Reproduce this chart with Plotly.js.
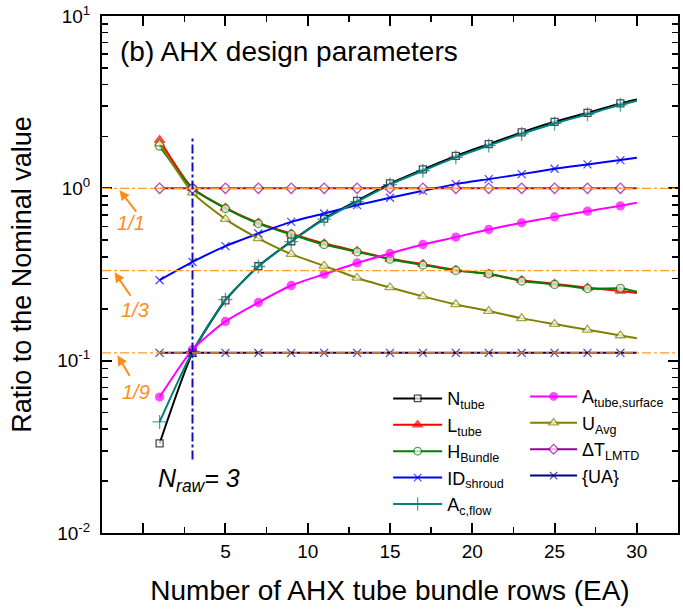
<!DOCTYPE html>
<html><head><meta charset="utf-8">
<script src="https://cdn.plot.ly/plotly-3.0.1.min.js"></script>
<style>html,body{margin:0;padding:0;background:#fff}#chart{width:683px;height:610px}</style>
</head><body><div id="chart"></div>
<script>
// Number of AHX tube bundle rows (EA)
const rows = [1, 3, 5, 7, 9, 11, 13, 15, 17, 19, 21, 23, 25, 27, 29, 30];

// Ratio to the nominal value
const nTube    = [0.0331, 0.111, 0.224, 0.353, 0.493, 0.668, 0.846, 1.068, 1.288, 1.544, 1.806, 2.112, 2.433, 2.744, 3.112, 3.283];
const lTube    = [1.905, 1.0, 0.770, 0.630, 0.545, 0.478, 0.432, 0.390, 0.363, 0.336, 0.318, 0.293, 0.279, 0.265, 0.254, 0.247];
const hBundle  = [1.758, 1.0, 0.764, 0.625, 0.540, 0.472, 0.428, 0.388, 0.359, 0.334, 0.319, 0.290, 0.277, 0.262, 0.263, 0.251];
const idShroud = [0.293, 0.374, 0.462, 0.547, 0.639, 0.715, 0.799, 0.881, 0.967, 1.058, 1.131, 1.209, 1.298, 1.377, 1.458, 1.504];
const aCflow   = [0.0441, 0.113, 0.226, 0.352, 0.490, 0.662, 0.836, 1.052, 1.265, 1.513, 1.770, 2.070, 2.380, 2.690, 3.050, 3.220];
const aSurface = [0.0615, 0.116, 0.169, 0.2175, 0.273, 0.3175, 0.369, 0.419, 0.472, 0.521, 0.577, 0.631, 0.683, 0.737, 0.791, 0.824];
const uAvg     = [1.82, 0.945, 0.663, 0.512, 0.415, 0.355, 0.302, 0.266, 0.236, 0.212, 0.194, 0.176, 0.163, 0.151, 0.140, 0.135];
const dTlmtd   = [1, 1, 1, 1, 1, 1, 1, 1, 1, 1, 1, 1, 1, 1, 1, 1];
const uaTotal  = [0.111, 0.111, 0.111, 0.111, 0.111, 0.111, 0.111, 0.111, 0.111, 0.111, 0.111, 0.111, 0.111, 0.111, 0.111, 0.111];

// Reference ratio levels and their labels
const refLevels = [1, 1/3, 1/9];
const refLabels = ['1/1', '1/3', '1/9'];
const designRows = 3;

// Axis tick labels
const xTickVals = [0, 5, 10, 15, 20, 25, 30];
const xTickText = ['0', '5', '10', '15', '20', '25', '30'];
const yTickVals = [0.01, 0.1, 1, 10];
const yTickText = ['10<sup>-2</sup>', '10<sup>-1</sup>', '10<sup>0</sup>', '10<sup>1</sup>'];

const seriesNames = ['N<sub>tube</sub>', 'L<sub>tube</sub>', 'H<sub>Bundle</sub>', 'ID<sub>shroud</sub>', 'A<sub>c,flow</sub>',
                     'A<sub>tube,surface</sub>', 'U<sub>Avg</sub>', '\u0394T<sub>LMTD</sub>', '{UA}'];

const FONT = 'Liberation Sans, Arial, sans-serif';
const ORANGE = '#ff9a2e';
const Y_RANGE = [-2, 1];
const PLOT_H = 516.7;

function sizes(s) { return rows.map(r => (r % 2 === 1 ? s : 0)); }

function tr(name, y, color, symbol, fill, msize, legend) {
  return {
    type: 'scatter', mode: 'lines+markers', x: rows, y: y, name: name,
    line: {color: color, width: 2, shape: 'spline', smoothing: 0.6},
    marker: {symbol: symbol, size: sizes(msize), color: fill, line: {color: color, width: 1.3}},
    legend: legend, cliponaxis: false
  };
}

const data = [
  tr(seriesNames[0], nTube, '#000000', 'square', '#ffffff', 7, 'legend'),
  tr(seriesNames[1], lTube, '#ff0000', 'triangle-up', '#ff0000', 9, 'legend'),
  tr(seriesNames[2], hBundle, '#008000', 'circle', '#ffffff', 8, 'legend'),
  tr(seriesNames[3], idShroud, '#0000ff', 'x-thin', '#0000ff', 8, 'legend'),
  tr(seriesNames[4], aCflow, '#008080', 'cross-thin', '#008080', 10, 'legend'),
  tr(seriesNames[5], aSurface, '#ff00ff', 'circle', '#ff00ff', 8, 'legend2'),
  tr(seriesNames[6], uAvg, '#808000', 'triangle-up', '#ffffff', 9, 'legend2'),
  tr(seriesNames[7], dTlmtd, '#990099', 'diamond', '#ffffff', 8, 'legend2'),
  tr(seriesNames[8], uaTotal, '#000080', 'x-thin', '#000080', 8, 'legend2'),
  // first x tick label, drawn as text just below the axis at its tick
  {type: 'scatter', mode: 'text', x: [xTickVals[0]], y: [Math.pow(10, Y_RANGE[0] - 20.5 / (PLOT_H / 3))],
   text: [xTickText[0]], textposition: 'middle center', cliponaxis: false, showlegend: false, hoverinfo: 'skip',
   textfont: {family: FONT, size: 19, color: '#000'}}
];

const shapes = refLevels.map(v => ({
  type: 'line', xref: 'paper', x0: 0, x1: 1, yref: 'y', y0: v, y1: v,
  line: {color: ORANGE, width: 1.3, dash: 'dashdot'}, layer: 'above'
}));
shapes.push({type: 'line', xref: 'x', x0: designRows, x1: designRows, yref: 'y', y0: 0.0267, y1: 1.96,
  line: {color: '#1010c0', width: 2, dash: 'dashdot'}, layer: 'above'});

const arrowHeads = [[-1.44, 0.976, 18, 23], [-1.74, 0.326, 17, 25], [-1.56, 0.1075, 13, 22]];
const labelPos = [[-0.71, 0.628], [-0.47, 0.196], [-0.41, 0.0655]];
const annotations = [];
refLabels.forEach((t, i) => {
  const a = arrowHeads[i];
  annotations.push({xref: 'x', yref: 'y', x: a[0], y: Math.log10(a[1]), ax: a[2], ay: a[3], text: '',
    showarrow: true, arrowhead: 2, arrowsize: 1, arrowwidth: 2, arrowcolor: '#ff8c1a'});
  annotations.push({xref: 'x', yref: 'y', x: labelPos[i][0], y: Math.log10(labelPos[i][1]), text: '<i>' + t + '</i>',
    xanchor: 'center', yanchor: 'middle', showarrow: false, font: {family: FONT, size: 20, color: '#ff8c1a'}});
});
annotations.push({xref: 'paper', yref: 'paper', x: 0.1688, y: 0.102, xanchor: 'center', yanchor: 'middle', showarrow: false,
  text: '<i>N</i><sub><i>raw</i></sub><i>= 3</i>', font: {family: FONT, size: 25, color: '#000'}});

const axisCommon = {
  showline: true, linewidth: 2, linecolor: '#000', mirror: 'allticks',
  ticks: 'inside', ticklen: 10, tickwidth: 2, tickcolor: '#000',
  showgrid: false, zeroline: false, tickfont: {family: FONT, size: 19, color: '#000'}
};

const yMinor = [];
[0.01, 0.1, 1].forEach(d => { for (let k = 2; k <= 9; k++) yMinor.push(d * k); });

const layout = {
  width: 683, height: 610,
  margin: {l: 101.7, r: 5, t: 16, b: 77.3},
  paper_bgcolor: '#fff', plot_bgcolor: '#fff',
  font: {family: FONT, color: '#000'},
  title: {text: '(b) AHX design parameters', x: 120 / 683, xanchor: 'left', xref: 'container',
    y: 1 - 51 / 610, yanchor: 'middle', font: {family: FONT, size: 28, color: '#000'}},
  xaxis: Object.assign({}, axisCommon, {
    range: [-2.5, 32.5], tickmode: 'array', tickvals: xTickVals, ticktext: ['', ...xTickText.slice(1)],
    minor: {dtick: 2.5, tick0: 0, ticks: 'inside', ticklen: 6, tickwidth: 1.5, tickcolor: '#000'},
    title: {text: 'Number of AHX tube bundle rows (EA)', font: {family: FONT, size: 28, color: '#000'}, standoff: 20}
  }),
  yaxis: Object.assign({}, axisCommon, {
    type: 'log', range: Y_RANGE, tickmode: 'array', tickvals: yTickVals, ticktext: yTickText,
    ticklabelstandoff: 6,
    minor: {tickmode: 'array', tickvals: yMinor, ticks: 'inside', ticklen: 6, tickwidth: 1.5, tickcolor: '#000'},
    title: {text: 'Ratio to the Nominal value', font: {family: FONT, size: 27, color: '#000'}, standoff: 18}
  }),
  showlegend: true,
  legend: {x: (388 - 101.7) / 576.3, y: (532.7 - 380) / 516.7, xanchor: 'left', yanchor: 'top', itemwidth: 49,
    bgcolor: 'rgba(0,0,0,0)', font: {family: FONT, size: 18, color: '#000'}, tracegroupgap: 0},
  legend2: {x: (525 - 101.7) / 576.3, y: (532.7 - 378) / 516.7, xanchor: 'left', yanchor: 'top', itemwidth: 47,
    bgcolor: 'rgba(0,0,0,0)', font: {family: FONT, size: 18, color: '#000'}, tracegroupgap: 0},
  shapes: shapes,
  annotations: annotations
};

Plotly.newPlot('chart', data, layout, {displayModeBar: false, staticPlot: true});
</script></body></html>
